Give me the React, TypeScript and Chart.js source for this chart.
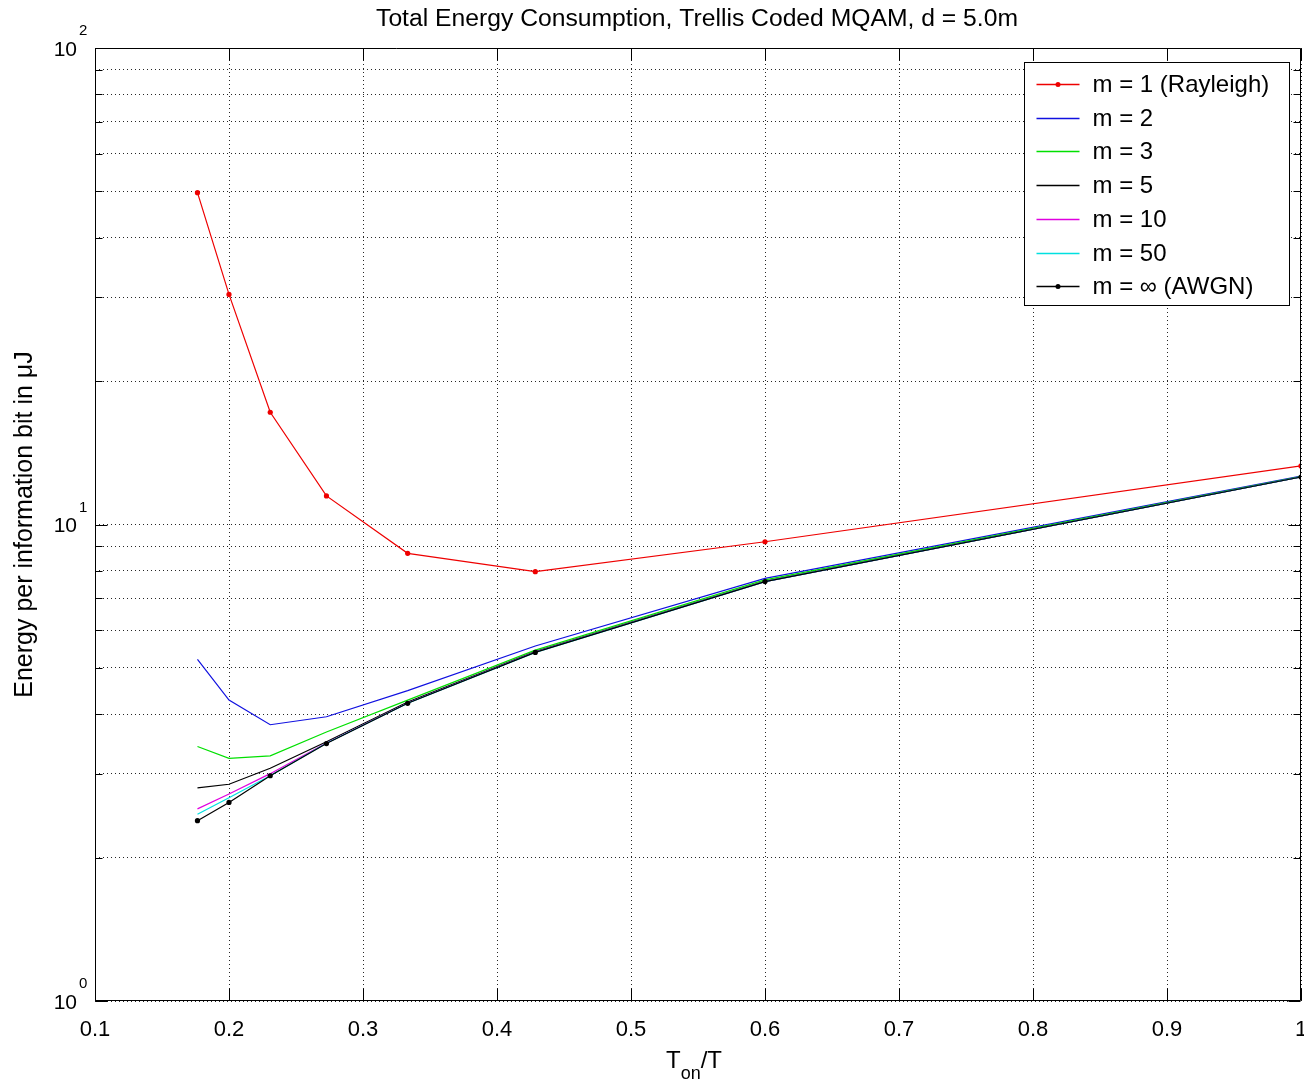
import React, { useEffect, useRef } from 'react';
import { Chart, registerables } from 'chart.js';

Chart.register(...registerables);

// ---- data ----
const xValues = [3 / 17, 0.2, 3 / 13, 3 / 11, 1 / 3, 3 / 7, 0.6, 1.0];
const seriesLabels = ['m = 1 (Rayleigh)', 'm = 2', 'm = 3', 'm = 5', 'm = 10', 'm = 50', 'm = \u221E (AWGN)'];
const rayleigh = [49.7, 30.4, 17.2, 11.48, 8.7, 7.96, 9.2, 13.27];
const m2 = [5.21, 4.28, 3.8, 3.95, 4.48, 5.56, 7.71, 12.64];
const m3 = [3.42, 3.23, 3.27, 3.67, 4.28, 5.45, 7.65, 12.6];
const m5 = [2.8, 2.85, 3.08, 3.5, 4.24, 5.41, 7.6, 12.58];
const m10 = [2.53, 2.72, 3.0, 3.48, 4.22, 5.4, 7.59, 12.58];
const m50 = [2.465, 2.67, 2.97, 3.475, 4.215, 5.39, 7.59, 12.58];
const awgn = [2.39, 2.61, 2.97, 3.47, 4.215, 5.39, 7.59, 12.58];
const seriesValues = [rayleigh, m2, m3, m5, m10, m50, awgn];
const seriesColors = ['#ee0000', '#1010e0', '#00e000', '#000000', '#e000e0', '#00e0e0', '#000000'];
const seriesMarkers = [true, false, false, false, false, false, true];

const xTicks = [0.1, 0.2, 0.3, 0.4, 0.5, 0.6, 0.7, 0.8, 0.9, 1.0];
const xTickLabels = ['0.1', '0.2', '0.3', '0.4', '0.5', '0.6', '0.7', '0.8', '0.9', '1'];
const yTicks = [1, 2, 3, 4, 5, 6, 7, 8, 9, 10, 20, 30, 40, 50, 60, 70, 80, 90, 100];
const yMajorTicks = [1, 10, 100];
const yMajorExponents = ['0', '1', '2'];

const titleText = 'Total Energy Consumption, Trellis Coded MQAM, d = 5.0m';
const yTitleText = 'Energy per information bit in \u03BCJ';
const FONT = "'Liberation Sans', Arial, Helvetica, sans-serif";

const framePlugin = {
  id: 'matlabFrame',
  beforeDraw(chart: any) {
    const ctx = chart.ctx;
    ctx.save();
    ctx.fillStyle = '#ffffff';
    ctx.fillRect(0, 0, chart.width, chart.height);
    ctx.restore();
  },
  afterDraw(chart: any) {
    const ctx: CanvasRenderingContext2D = chart.ctx;
    const a = chart.chartArea;
    const xs = chart.scales.x;
    const ys = chart.scales.y;
    const L = Math.round(a.left) + 0.5;
    const R = Math.round(a.right) - 0.5;
    const T = Math.round(a.top) + 0.5;
    const B = Math.round(a.bottom) - 0.5;
    ctx.save();
    ctx.strokeStyle = '#000';
    ctx.lineWidth = 1;
    ctx.setLineDash([]);
    const line = (x1: number, y1: number, x2: number, y2: number) => {
      ctx.beginPath();
      ctx.moveTo(x1, y1);
      ctx.lineTo(x2, y2);
      ctx.stroke();
    };
    // box
    line(L, T, R, T);
    line(R, T, R, B);
    line(R, B, L, B);
    line(L, B, L, T);
    // x ticks (inside, bottom and top)
    xTicks.forEach((v) => {
      const px = Math.round(xs.getPixelForValue(v)) + 0.5;
      line(px, B, px, B - 12);
      line(px, T, px, T + 12);
    });
    // y ticks
    yTicks.forEach((v) => {
      const py = Math.round(ys.getPixelForValue(v)) + 0.5;
      const len = yMajorTicks.includes(v) ? 12 : 7;
      line(L, py, L + len, py);
      line(R, py, R - len, py);
    });
    // y tick labels: 10^n
    ctx.fillStyle = '#000';
    yMajorTicks.forEach((v, i) => {
      const py = ys.getPixelForValue(v);
      ctx.font = `21px ${FONT}`;
      ctx.textAlign = 'right';
      ctx.textBaseline = 'middle';
      ctx.fillText('10', a.left - 18, py + 2);
      ctx.font = `15px ${FONT}`;
      ctx.textAlign = 'left';
      ctx.fillText(yMajorExponents[i], a.left - 16, py - 17);
    });
    // title
    ctx.font = `24.7px ${FONT}`;
    ctx.textAlign = 'center';
    ctx.textBaseline = 'middle';
    ctx.fillText(titleText, (a.left + a.right) / 2 - 1, 19);
    // y axis title
    ctx.save();
    ctx.translate(25, (a.top + a.bottom) / 2);
    ctx.rotate(-Math.PI / 2);
    ctx.font = `25px ${FONT}`;
    ctx.textAlign = 'center';
    ctx.textBaseline = 'middle';
    ctx.fillText(yTitleText, 0, 0);
    ctx.restore();
    // x axis title: T_on/T
    ctx.textAlign = 'left';
    ctx.textBaseline = 'alphabetic';
    ctx.font = `24px ${FONT}`;
    const wT = ctx.measureText('T').width;
    const wSlash = ctx.measureText('/T').width;
    ctx.font = `18px ${FONT}`;
    const wOn = ctx.measureText('on').width;
    const total = wT + wOn + wSlash;
    let cx = (a.left + a.right) / 2 - total / 2 - 4;
    const base = a.bottom + 67;
    ctx.font = `24px ${FONT}`;
    ctx.fillText('T', cx, base);
    cx += wT;
    ctx.font = `18px ${FONT}`;
    ctx.fillText('on', cx, base + 11);
    cx += wOn;
    ctx.font = `24px ${FONT}`;
    ctx.fillText('/T', cx, base);

    // legend
    const boxL = Math.round(a.right) - 277 + 0.5;
    const boxR = Math.round(a.right) - 12 + 0.5;
    const boxT = Math.round(a.top) + 14 + 0.5;
    const boxB = boxT + 243;
    ctx.fillStyle = '#fff';
    ctx.fillRect(boxL, boxT, boxR - boxL, boxB - boxT);
    ctx.strokeStyle = '#000';
    ctx.lineWidth = 1;
    ctx.strokeRect(boxL, boxT, boxR - boxL, boxB - boxT);
    seriesLabels.forEach((lab, i) => {
      const ry = Math.round(boxT + 21.5 + i * 33.7) + 0.5;
      ctx.strokeStyle = seriesColors[i];
      ctx.lineWidth = 1.3;
      line(boxL + 12, ry, boxL + 55, ry);
      if (seriesMarkers[i]) {
        ctx.fillStyle = seriesColors[i];
        ctx.beginPath();
        ctx.arc(boxL + 33.5, ry, 2.5, 0, Math.PI * 2);
        ctx.fill();
      }
      ctx.fillStyle = '#000';
      ctx.font = `24px ${FONT}`;
      ctx.textAlign = 'left';
      ctx.textBaseline = 'middle';
      ctx.fillText(lab, boxL + 68, ry + 1);
    });
    ctx.restore();
  },
};

export default function App() {
  const canvasRef = useRef<HTMLCanvasElement | null>(null);

  useEffect(() => {
    const canvas = canvasRef.current;
    if (!canvas) return;
    const datasets = seriesLabels.map((label, i) => ({
      label,
      data: xValues.map((x, j) => ({ x, y: seriesValues[i][j] })),
      borderColor: seriesColors[i],
      backgroundColor: seriesColors[i],
      borderWidth: 1.2,
      pointRadius: seriesMarkers[i] ? 2.6 : 0,
      pointHoverRadius: 0,
      pointBorderWidth: 0,
      pointBackgroundColor: seriesColors[i],
      tension: 0,
      fill: false,
      order: seriesLabels.length - i,
    }));

    const chart = new Chart(canvas, {
      type: 'line',
      data: { datasets },
      options: {
        animation: false,
        responsive: false,
        devicePixelRatio: 1,
        events: [],
        layout: { padding: { left: 0, right: 3, top: 48, bottom: 0 } },
        plugins: {
          legend: { display: false },
          title: { display: false },
          tooltip: { enabled: false },
        },
        scales: {
          x: {
            type: 'linear',
            min: 0.1,
            max: 1.0,
            afterBuildTicks: (scale: any) => {
              scale.ticks = xTicks.map((v) => ({ value: v }));
            },
            afterFit: (scale: any) => {
              scale.height = 82;
              scale.paddingLeft = 0;
              scale.paddingRight = 0;
            },
            ticks: {
              autoSkip: false,
              maxRotation: 0,
              padding: 16,
              color: '#000',
              font: { family: FONT, size: 22 },
              callback: (_v: any, idx: number) => xTickLabels[idx],
            },
            grid: {
              color: 'rgba(0,0,0,0.85)',
              lineWidth: 1,
              drawTicks: false,
            },
            border: { display: false, dash: [1, 3] },
          },
          y: {
            type: 'logarithmic',
            min: 1,
            max: 100,
            afterBuildTicks: (scale: any) => {
              scale.ticks = yTicks.map((v) => ({ value: v, major: yMajorTicks.includes(v) }));
            },
            afterFit: (scale: any) => {
              scale.width = 95;
              scale.paddingTop = 0;
              scale.paddingBottom = 0;
            },
            ticks: { display: false },
            grid: {
              color: 'rgba(0,0,0,0.85)',
              lineWidth: 1,
              drawTicks: false,
            },
            border: { display: false, dash: [1, 3] },
          },
        },
      },
      plugins: [framePlugin],
    } as any);

    return () => {
      chart.destroy();
    };
  }, []);

  return (
    <div style={{ position: 'absolute', left: 0, top: 0, width: 1304, height: 1083, background: '#fff' }}>
      <canvas ref={canvasRef} width={1304} height={1083} style={{ display: 'block' }} />
    </div>
  );
}
